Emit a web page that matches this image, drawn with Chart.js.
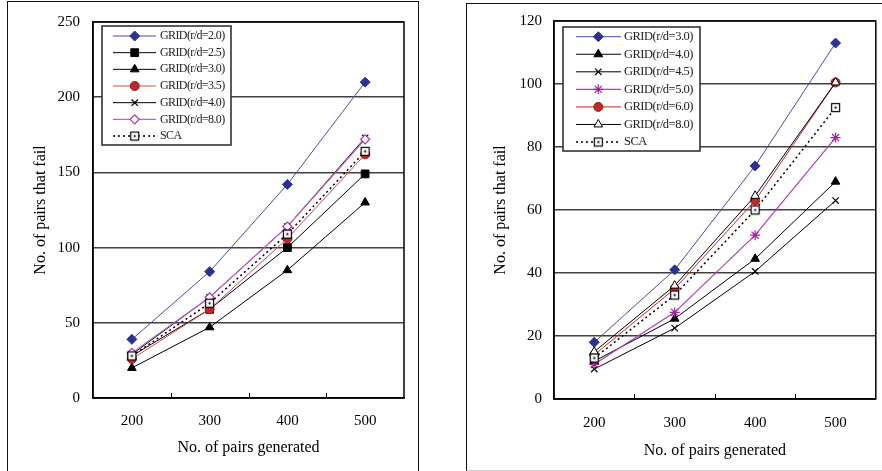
<!DOCTYPE html>
<html><head><meta charset="utf-8">
<script src="https://cdn.jsdelivr.net/npm/chart.js"></script>
<style>
html,body{margin:0;padding:0;background:#fff;width:882px;height:471px;overflow:hidden;}
#wrap{position:relative;width:882px;height:471px;}
.frame{position:absolute;box-sizing:border-box;}
canvas{position:absolute;top:0;}
</style></head><body>
<div id="wrap">
<div class="frame" style="left:7px;top:1px;width:412px;height:490px;border:1px solid #111;"></div>
<div class="frame" style="left:466px;top:3px;width:440px;height:468px;border:1px solid #111;border-bottom-color:#ccc;"></div>
<canvas id="c1" width="441" height="471" style="left:0"></canvas>
<canvas id="c2" width="441" height="471" style="left:441px"></canvas>
</div>
<script>
// ---------- data ----------
const categories = ['200', '300', '400', '500'];
const yTicksLeft = [0, 50, 100, 150, 200, 250];
const yTicksRight = [0, 20, 40, 60, 80, 100, 120];

const labelsLeft = ['GRID(r/d=2.0)', 'GRID(r/d=2.5)', 'GRID(r/d=3.0)', 'GRID(r/d=3.5)', 'GRID(r/d=4.0)', 'GRID(r/d=8.0)', 'SCA'];
const gridL20 = [39, 84, 142, 210];
const gridL25 = [28, 59, 100, 149];
const gridL30 = [20, 47, 85, 130];
const gridL35 = [26, 59, 106, 162];
const gridL40 = [29, 67, 114, 173];
const gridL80 = [30, 67, 114, 172];
const scaL = [28, 63, 109, 164];

const labelsRight = ['GRID(r/d=3.0)', 'GRID(r/d=4.0)', 'GRID(r/d=4.5)', 'GRID(r/d=5.0)', 'GRID(r/d=6.0)', 'GRID(r/d=8.0)', 'SCA'];
const gridR30 = [18, 41, 74, 113];
const gridR40 = [12, 25.5, 44.5, 69];
const gridR45 = [9.5, 22.5, 40.5, 63];
const gridR50 = [11, 27.5, 52, 83];
const gridR60 = [14, 35, 63, 100.5];
const gridR80 = [15, 36, 64.5, 100.5];
const scaR = [13, 33, 60, 92.5];

// ---------- marker glyph for SCA (open square with centre dot) ----------
function scaMarker() {
  const s = 11;
  const c = document.createElement('canvas');
  c.width = s; c.height = s;
  const g = c.getContext('2d');
  g.fillStyle = '#fff'; g.fillRect(1, 1, s - 2, s - 2);
  g.strokeStyle = '#000'; g.lineWidth = 1.2; g.strokeRect(1.5, 1.5, s - 3, s - 3);
  g.fillStyle = '#000'; g.fillRect(Math.floor(s / 2) - 0.5, Math.floor(s / 2) - 0.5, 2, 2);
  return c;
}
const SCA_IMG = scaMarker();

// ---------- styles ----------
const ST = {
  blue:   {borderColor: '#4a4ab4', borderWidth: 1, pointStyle: 'rectRot', pointRadius: 5, pointBackgroundColor: '#2e3192', pointBorderColor: '#2e3192', pointBorderWidth: 1},
  bsq:    {borderColor: '#000', borderWidth: 1, pointStyle: 'rect', pointRadius: 5.5, pointBackgroundColor: '#000', pointBorderColor: '#000', pointBorderWidth: 1},
  btri:   {borderColor: '#000', borderWidth: 1, pointStyle: 'triangle', pointRadius: 5, pointBackgroundColor: '#000', pointBorderColor: '#000', pointBorderWidth: 1},
  redL:   {borderColor: '#d84a4a', borderWidth: 1, pointStyle: 'circle', pointRadius: 4.5, pointBackgroundColor: '#c0282d', pointBorderColor: '#9a1c1c', pointBorderWidth: 1},
  redR:   {borderColor: '#d02626', borderWidth: 1, pointStyle: 'circle', pointRadius: 4.5, pointBackgroundColor: '#c0282d', pointBorderColor: '#9a1c1c', pointBorderWidth: 1},
  cross:  {borderColor: '#000', borderWidth: 1, pointStyle: 'crossRot', pointRadius: 4.5, pointBackgroundColor: '#000', pointBorderColor: '#000', pointBorderWidth: 1.2},
  pinkD:  {borderColor: '#c060c8', borderWidth: 1.2, pointStyle: 'rectRot', pointRadius: 4.5, pointBackgroundColor: '#fff', pointBorderColor: '#b030b0', pointBorderWidth: 1.2},
  pinkS:  {borderColor: '#b040b8', borderWidth: 1.2, pointStyle: 'star', pointRadius: 5, pointBackgroundColor: '#a020a0', pointBorderColor: '#a020a0', pointBorderWidth: 1.2},
  otri:   {borderColor: '#000', borderWidth: 1, pointStyle: 'triangle', pointRadius: 5, pointBackgroundColor: '#fff', pointBorderColor: '#000', pointBorderWidth: 1},
  sca:    {borderColor: '#000', borderWidth: 1.5, borderDash: [2, 3], pointStyle: SCA_IMG, pointRadius: 5, pointBackgroundColor: '#fff', pointBorderColor: '#000', pointBorderWidth: 1}
};

function buildSets(labels, series, styles) {
  const n = series.length;
  return series.map((d, i) => Object.assign({label: labels[i], data: d, fill: false, tension: 0, order: n - i}, styles[i]));
}

// ---------- plugins ----------
const framePlugin = {
  id: 'frameBox',
  beforeDatasetsDraw(chart) {
    const a = chart.chartArea, ctx = chart.ctx;
    ctx.save();
    ctx.strokeStyle = '#000'; ctx.lineWidth = 1.5;
    ctx.strokeRect(a.left, a.top, a.right - a.left, a.bottom - a.top);
    // inward tick marks at category boundaries
    const xs = chart.scales.x;
    ctx.lineWidth = 1;
    for (let i = 1; i < xs.ticks.length; i++) {
      const px = Math.round((xs.getPixelForTick(i - 1) + xs.getPixelForTick(i)) / 2) + 0.5;
      ctx.beginPath(); ctx.moveTo(px, a.bottom); ctx.lineTo(px, a.bottom - 5); ctx.stroke();
    }
    ctx.restore();
  }
};

const legendPlugin = {
  id: 'boxLegend',
  afterDatasetsDraw(chart, args, o) {
    const ctx = chart.ctx;
    ctx.save();
    ctx.fillStyle = '#fff';
    ctx.fillRect(o.x, o.y, o.w, o.h);
    ctx.strokeStyle = '#333'; ctx.lineWidth = 1.6;
    ctx.strokeRect(o.x, o.y, o.w, o.h);
    chart.data.datasets.forEach((ds, i) => {
      const y = o.row0 + i * o.gap;
      ctx.setLineDash(ds.borderDash || []);
      ctx.strokeStyle = ds.borderColor; ctx.lineWidth = ds.borderWidth;
      ctx.beginPath(); ctx.moveTo(o.lx0, y); ctx.lineTo(o.lx1, y); ctx.stroke();
      ctx.setLineDash([]);
      ctx.fillStyle = ds.pointBackgroundColor; ctx.strokeStyle = ds.pointBorderColor; ctx.lineWidth = ds.pointBorderWidth;
      Chart.helpers.drawPoint(ctx, {pointStyle: ds.pointStyle, radius: ds.pointRadius, borderWidth: ds.pointBorderWidth, rotation: 0}, o.mx, y);
      ctx.fillStyle = '#222';
      ctx.font = o.font; ctx.textBaseline = 'middle'; ctx.textAlign = 'left';
      if ('letterSpacing' in ctx) ctx.letterSpacing = o.ls;
      ctx.fillText(ds.label, o.tx, y);
      if ('letterSpacing' in ctx) ctx.letterSpacing = '0px';
    });
    ctx.restore();
  }
};

const FONT = '"Liberation Serif", "Times New Roman", serif';

function makeChart(id, datasets, ticks, geo, legend) {
  return new Chart(document.getElementById(id), {
    type: 'line',
    data: {labels: categories, datasets},
    options: {
      responsive: false, animation: false, devicePixelRatio: 1,
      layout: {padding: {left: 0, top: geo.top, right: geo.right, bottom: 0}},
      plugins: {legend: {display: false}, tooltip: {enabled: false}, boxLegend: legend},
      scales: {
        x: {
          type: 'category', offset: true,
          grid: {display: false, drawTicks: false},
          border: {display: true, color: '#000', width: 1.5},
          ticks: {color: '#000', font: {family: FONT, size: 15}, padding: geo.xPad, maxRotation: 0},
          title: {display: true, text: 'No. of pairs generated', color: '#000', font: {family: FONT, size: 16}, padding: {top: 0, bottom: geo.xTitlePad}},
          afterFit: s => { s.height = geo.xH; }
        },
        y: {
          min: ticks[0], max: ticks[ticks.length - 1],
          grid: {color: '#404040', lineWidth: 1.5, drawTicks: false},
          border: {display: true, color: '#000', width: 1.5},
          ticks: {stepSize: ticks[1] - ticks[0], color: '#000', font: {family: FONT, size: 15}, padding: geo.yPad},
          title: {display: true, text: 'No. of pairs that fail', color: '#000', font: {family: FONT, size: 16}, padding: {top: geo.yTitlePad, bottom: 0}},
          afterFit: s => { s.width = geo.yW; }
        }
      }
    },
    plugins: [framePlugin, legendPlugin]
  });
}

makeChart('c1',
  buildSets(labelsLeft, [gridL20, gridL25, gridL30, gridL35, gridL40, gridL80, scaL],
    [ST.blue, ST.bsq, ST.btri, ST.redL, ST.cross, ST.pinkD, ST.sca]),
  yTicksLeft,
  {top: 14, right: 37, xH: 73, yW: 93, xPad: 14, yPad: 13, xTitlePad: 14, yTitlePad: 31},
  {x: 102, y: 26, w: 129, h: 119, row0: 36, gap: 16.67, lx0: 113, lx1: 156, mx: 134.7, tx: 160, font: '12px ' + FONT, ls: '-0.6px'}
);

makeChart('c2',
  buildSets(labelsRight, [gridR30, gridR40, gridR45, gridR50, gridR60, gridR80, scaR],
    [ST.blue, ST.btri, ST.cross, ST.pinkS, ST.redR, ST.otri, ST.sca]),
  yTicksRight,
  {top: 18, right: 5, xH: 72, yW: 113, xPad: 15, yPad: 12, xTitlePad: 11, yTitlePad: 50},
  {x: 122, y: 27, w: 137, h: 124, row0: 36.7, gap: 17.55, lx0: 135, lx1: 180, mx: 157.3, tx: 183, font: '12.5px ' + FONT, ls: '-0.5px'}
);
</script>
</body></html>
